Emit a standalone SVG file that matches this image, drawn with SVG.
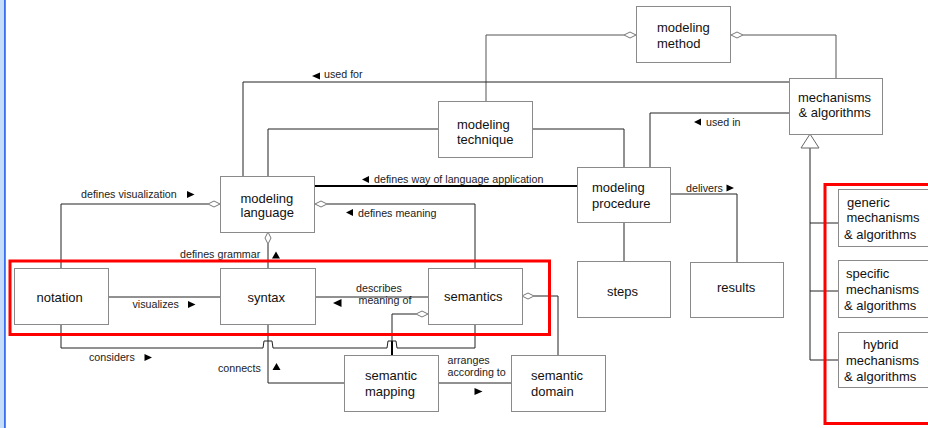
<svg xmlns="http://www.w3.org/2000/svg" width="928" height="428" viewBox="0 0 928 428">
  <style>
    .box { fill: #ffffff; stroke: #8a8a8a; stroke-width: 1; }
    .t { font-family: "Liberation Sans", Arial, sans-serif; font-size: 13px; fill: #111111; }
    .lbl { font-family: "Liberation Sans", Arial, sans-serif; font-size: 10.7px; fill: #222222; }
    .ln { fill: none; stroke: #222222; stroke-width: 1; }
    .ln-grey { fill: none; stroke: #555555; stroke-width: 1; }
    .thick { fill: none; stroke: #000000; stroke-width: 2; }
    .dia { fill: #ffffff; stroke: #777777; stroke-width: 1; }
    .tri { fill: #000000; }
    .frame { fill: none; stroke: #ff0000; stroke-width: 3; }
  </style>

  <rect x="0" y="0" width="928" height="428" fill="#ffffff"/>
  <!-- window edge on the left -->
  <rect x="0" y="0" width="4" height="428" fill="#c6dcfb"/>
  <rect x="4" y="0" width="1.8" height="428" fill="#3a6ef0"/>

  <!-- connectors -->
  <g id="connectors">
    <!-- modeling method aggregates technique and mechanisms -->
    <polyline class="ln-grey" points="624,35 486,35 486,101"/>
    <polyline class="ln-grey" points="743,35 836,35 836,78"/>
    <!-- used for -->
    <polyline class="ln" points="789,82 243,82 243,176"/>
    <!-- technique to language / procedure -->
    <polyline class="ln" points="438,129 268,129 268,176"/>
    <polyline class="ln" points="533,129 624,129 624,167"/>
    <!-- used in -->
    <polyline class="ln" points="789,113 650,113 650,167"/>
    <!-- defines way of language application -->
    <line class="thick" x1="315" y1="186" x2="577" y2="186"/>
    <!-- defines meaning -->
    <polyline class="ln" points="327,204 475,204 475,268"/>
    <!-- defines visualization -->
    <polyline class="ln" points="208,204 61,204 61,268"/>
    <!-- defines grammar -->
    <line class="ln" x1="268" y1="244" x2="268" y2="268"/>
    <!-- visualizes -->
    <line class="ln" x1="109" y1="297" x2="220" y2="297"/>
    <!-- describes meaning of -->
    <line class="ln" x1="316" y1="297" x2="428" y2="297"/>
    <!-- semantics to semantic domain -->
    <polyline class="ln" points="534,296 558,296 558,355"/>
    <!-- semantics to semantic mapping -->
    <polyline class="ln" points="416,314 392,314 392,341"/>
    <line x1="392" y1="341" x2="392" y2="355" stroke="#000" stroke-width="2"/>
    <!-- considers, hopping over two verticals -->
    <path class="ln" d="M61,324 L61,348 L263,348 L264,341 L272,341 L273,348 L387,348 L388,341 L396,341 L397,348 L475,348 L475,324"/>
    <!-- connects -->
    <polyline class="ln" points="268,324 268,383 344,383"/>
    <!-- arranges according to -->
    <line class="ln" x1="439" y1="383" x2="511" y2="383"/>
    <!-- delivers -->
    <polyline class="ln" points="671,194 737,194 737,262"/>
    <!-- procedure to steps -->
    <line class="ln" x1="624" y1="222" x2="624" y2="261"/>
    <!-- generalization of mechanisms & algorithms -->
    <line class="ln" x1="810" y1="148" x2="810" y2="360" stroke="#000" stroke-width="1.5"/>
    <line class="ln" x1="810" y1="223" x2="838" y2="223"/>
    <line class="ln" x1="810" y1="291" x2="838" y2="291"/>
    <line class="ln" x1="810" y1="360" x2="838" y2="360"/>
    <polygon points="810,134 801,148 819,148" fill="#ffffff" stroke="#666666" stroke-width="1"/>

    <!-- aggregation diamonds -->
    <polygon class="dia" points="636,35 630,32 624,35 630,38"/>
    <polygon class="dia" points="731,35 737,32 743,35 737,38"/>
    <polygon class="dia" points="220,204 214,201 208,204 214,207"/>
    <polygon class="dia" points="315,204 321,201 327,204 321,207"/>
    <polygon class="dia" points="268,232 271,238 268,244 265,238"/>
    <polygon class="dia" points="522,296 528,293 534,296 528,299"/>
    <polygon class="dia" points="428,314 422,311 416,314 422,317"/>

    <!-- reading-direction marks and labels -->
    <polygon class="tri" points="312,76 320,72.5 320,79.5"/>
    <text class="lbl" x="324" y="78">used for</text>
    <polygon class="tri" points="694,122 701,118.5 701,125.5"/>
    <text class="lbl" x="706" y="125.5">used in</text>
    <polygon class="tri" points="362,179.5 369,176 369,183"/>
    <text class="lbl" x="374" y="183">defines way of language application</text>
    <polygon class="tri" points="346,212.5 353,209 353,216"/>
    <text class="lbl" x="358" y="216.5">defines meaning</text>
    <text class="lbl" x="81" y="197.5">defines visualization</text>
    <polygon class="tri" points="194.5,194.5 187,191 187,198"/>
    <text class="lbl" x="180" y="257.5">defines grammar</text>
    <polygon class="tri" points="276,251.5 272,258.5 280,258.5"/>
    <text class="lbl" x="132.5" y="307.5">visualizes</text>
    <polygon class="tri" points="195.5,304.5 188,301 188,308"/>
    <text class="lbl" x="356" y="291.5">describes</text>
    <text class="lbl" x="358.5" y="304">meaning of</text>
    <polygon class="tri" points="333,303 341.5,299 341.5,307"/>
    <text class="lbl" x="89" y="360.5">considers</text>
    <polygon class="tri" points="152,357.5 144.5,354 144.5,361"/>
    <text class="lbl" x="218" y="372">connects</text>
    <polygon class="tri" points="276.5,363 272.5,370 280.5,370"/>
    <text class="lbl" x="447.5" y="363.5">arranges</text>
    <text class="lbl" x="447.5" y="376">according to</text>
    <polygon class="tri" points="482.5,391.5 474.5,388 474.5,395"/>
    <text class="lbl" x="686" y="191.5">delivers</text>
    <polygon class="tri" points="734,188 726.5,184.5 726.5,191.5"/>
  </g>

  <!-- nodes -->
  <g id="modeling-method">
    <rect class="box" x="636.5" y="6.5" width="94" height="56"/>
    <text class="t" x="657" y="32">modeling</text>
    <text class="t" x="657" y="47.5">method</text>
  </g>
  <g id="mechanisms-algorithms">
    <rect class="box" x="789.5" y="78.5" width="93" height="56"/>
    <text class="t" x="798" y="101.5">mechanisms</text>
    <text class="t" x="798.5" y="117">&amp; algorithms</text>
  </g>
  <g id="modeling-technique">
    <rect class="box" x="438.5" y="101.5" width="94" height="56"/>
    <text class="t" x="457" y="128.5">modeling</text>
    <text class="t" x="457" y="143.5">technique</text>
  </g>
  <g id="modeling-procedure">
    <rect class="box" x="577.5" y="167.5" width="93" height="55"/>
    <text class="t" x="592" y="192">modeling</text>
    <text class="t" x="592" y="207.5">procedure</text>
  </g>
  <g id="modeling-language">
    <rect class="box" x="220.5" y="176.5" width="94" height="56"/>
    <text class="t" x="240.5" y="202.5">modeling</text>
    <text class="t" x="240.5" y="217">language</text>
  </g>
  <g id="notation">
    <rect class="box" x="14.5" y="268.5" width="94" height="56"/>
    <text class="t" x="36.5" y="301.5">notation</text>
  </g>
  <g id="syntax">
    <rect class="box" x="220.5" y="268.5" width="95" height="56"/>
    <text class="t" x="247.5" y="301.5">syntax</text>
  </g>
  <g id="semantics">
    <rect class="box" x="428.5" y="268.5" width="94" height="56"/>
    <text class="t" x="444" y="301">semantics</text>
  </g>
  <g id="semantic-mapping">
    <rect class="box" x="344.5" y="355.5" width="94" height="56"/>
    <text class="t" x="365" y="380">semantic</text>
    <text class="t" x="365" y="396">mapping</text>
  </g>
  <g id="semantic-domain">
    <rect class="box" x="511.5" y="355.5" width="94" height="56"/>
    <text class="t" x="531" y="380">semantic</text>
    <text class="t" x="531" y="396">domain</text>
  </g>
  <g id="steps">
    <rect class="box" x="577.5" y="261.5" width="93" height="56"/>
    <text class="t" x="607" y="295.5">steps</text>
  </g>
  <g id="results">
    <rect class="box" x="690.5" y="262.5" width="93" height="55"/>
    <text class="t" x="717" y="292">results</text>
  </g>
  <g id="generic-mechanisms">
    <rect class="box" x="838.5" y="189.5" width="100" height="57"/>
    <text class="t" x="847" y="207">generic</text>
    <text class="t" x="846.5" y="222">mechanisms</text>
    <text class="t" x="844" y="238.5">&amp; algorithms</text>
  </g>
  <g id="specific-mechanisms">
    <rect class="box" x="838.5" y="260.5" width="100" height="57"/>
    <text class="t" x="846" y="277.5">specific</text>
    <text class="t" x="846" y="293.5">mechanisms</text>
    <text class="t" x="844" y="309.5">&amp; algorithms</text>
  </g>
  <g id="hybrid-mechanisms">
    <rect class="box" x="838.5" y="332.5" width="100" height="55"/>
    <text class="t" x="863" y="348.5">hybrid</text>
    <text class="t" x="846" y="364.5">mechanisms</text>
    <text class="t" x="844" y="381">&amp; algorithms</text>
  </g>

  <!-- highlight frames -->
  <rect class="frame" x="10" y="261" width="539.5" height="73.5"/>
  <rect class="frame" x="825" y="184.5" width="120" height="239"/>
</svg>
